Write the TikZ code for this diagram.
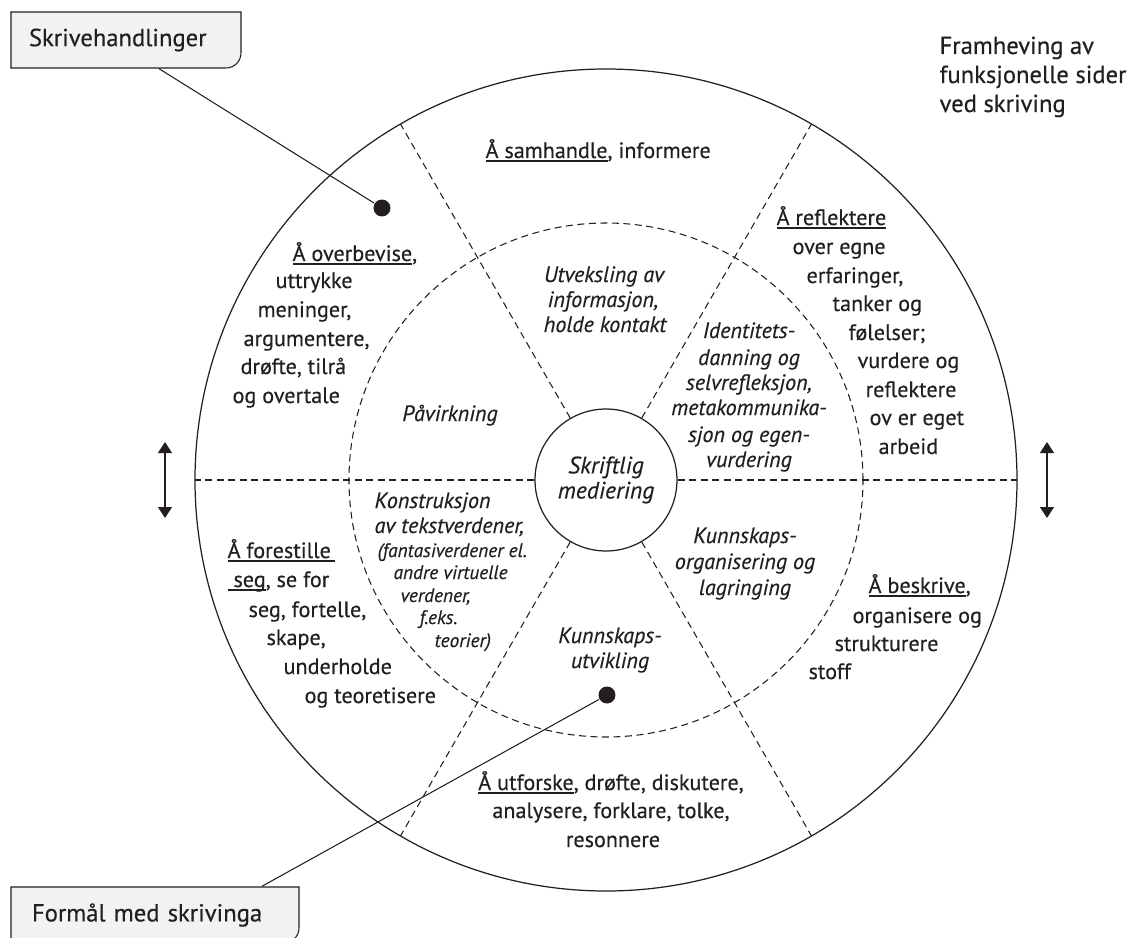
\documentclass[tikz,border=0pt]{standalone}
\usepackage{fontspec}
\setmainfont{PT Sans}[FakeBold=0.4]
\usetikzlibrary{arrows.meta}

\definecolor{ink}{HTML}{231F20}
\definecolor{boxgray}{HTML}{F1F2F2}
\newcommand{\ulbox}[1]{\setbox0=\hbox{#1}\rlap{\rule[-2pt]{\wd0}{0.6pt}}\box0}

\tikzset{
	txt/.style={inner sep=0, font=\fontsize{12.6}{15}\selectfont},
	itx/.style={inner sep=0, font=\fontsize{12.6}{15}\selectfont\itshape},
	small/.style={inner sep=0, font=\fontsize{11}{13}\selectfont\itshape},
	dashline/.style={line width=0.6pt, dash pattern=on 0.14cm off 0.09cm},
	lblbox/.style={fill=boxgray, line width=0.6pt},
	lbltxt/.style={inner ysep=0, align=left, minimum height=1.12cm, font=\fontsize{14}{16}\selectfont},
	dot/.style={circle, fill=ink, inner sep=0, minimum size=0.34cm}
}

\begin{document}
\begin{tikzpicture}[x=0.02cm, y=0.02cm, color=ink, line width=0.7pt, >={Triangle[length=0.22cm, width=0.28cm]}]
	\useasboundingbox (-606,-457) rectangle (523,480);

	\draw (0,0) circle [radius=411];
	\draw [dashline] (0,0) circle [radius=257];
	\node [draw, circle, minimum size=2.84cm, inner sep=0, align=center, font=\fontsize{13.5}{14.3}\selectfont\itshape] (mid) at (0,0) {Skriftlig\\mediering};
	\foreach \a in {0,60,...,300}
		\draw [dashline] (mid.\a) -- (\a:411);

	\draw [<->, line width=0.6pt] (-441,38) -- (-441,-38);
	\draw [<->, line width=0.6pt] (441,38) -- (441,-38);

	% labels with dots
	\filldraw [lblbox] (-595,468) -- (-365,468) -- (-365,427) arc [start angle=0, end angle=-90, radius=0.3cm] -- (-595,412) -- cycle;
	\node [lbltxt, text width=3.88cm, inner xsep=0.36cm] (skr) at (-480,440) {Skrivehandlinger};
	\filldraw [lblbox] (-595,-407) -- (-307,-407) -- (-307,-448) arc [start angle=0, end angle=-90, radius=0.3cm] -- (-595,-463) -- cycle;
	\node [lbltxt, text width=4.92cm, inner xsep=0.42cm] (frm) at (-451,-435) {Formål med skrivinga};
	\node [dot] (d1) at (-224,272) {};
	\node [dot] (d2) at (1,-215) {};
	\draw [line width=0.6pt] (d1) -- (skr.-41);
	\draw [line width=0.6pt] (d2) -- (frm.15);

	\foreach \y/\t [count=\i] in {426/Framheving av, 397/funksjonelle sider, 368/ved skriving}
		\node [txt, anchor=base west, font=\fontsize{14}{16}\selectfont] (fr\i) at (333,\y) {\t};

	% outer ring
	\node [txt, anchor=base west] (sam) at (-121,322) {\ulbox{Å samhandle}, informere};
	\foreach \x/\y/\t [count=\i] in {-314/219/{\ulbox{Å overbevise},}, -331/192/uttrykke, -349/163/{meninger,},
		-363/134/{argumentere,}, -366/106/{drøfte, tilrå}, -374/77/og overtale}
		\node [txt, anchor=base west] (ovb\i) at (\x,\y) {\t};
	\foreach \x/\y/\t [count=\i] in {170/255/{\ulbox{Å reflektere}}, 186/226/over egne, 200/197/{erfaringer,},
		226/169/tanker og, 242/140/følelser;, 251/112/vurdere og, 259/83/reflektere, 263/55/ov er eget, 272/26/arbeid}
		\node [txt, anchor=base west] (ref\i) at (\x,\y) {\t};
	\foreach \x/\y/\t [count=\i] in {262/-113/{\ulbox{Å beskrive},}, 246/-143/organisere og, 228/-171/strukturere, 202/-199/stoff}
		\node [txt, anchor=base west] (bes\i) at (\x,\y) {\t};
	\foreach \x/\y/\t [count=\i] in {-379/-78/{\ulbox{Å forestille\,}}, -379/-107/{\ulbox{\ seg}, se for}, -358/-137/{seg, fortelle,},
		-340/-165/{skape,}, -323/-194/underholde, -302/-223/og teoretisere}
		\node [txt, anchor=base west] (for\i) at (\x,\y) {\t};
	\foreach \x/\y/\t [count=\i] in {5/-310/{\ulbox{Å utforske}, drøfte, diskutere,}, 5/-338/{analysere, forklare, tolke,}, 7/-367/resonnere}
		\node [txt, anchor=base] (utf\i) at (\x,\y) {\t};

	% inner ring
	\foreach \x/\y/\t [count=\i] in {-2/198/Utveksling av, -3/173/{informasjon,}, -1/148/holde kontakt}
		\node [itx, anchor=base] (utv\i) at (\x,\y) {\t};
	\node [itx, anchor=base] (pav) at (-156,59) {Påvirkning};
	\foreach \y/\t [count=\i] in {142/Identitets-, 115/danning og, 90/{selvrefleksjon,}, 65/metakommunika-, 38/sjon og egen-, 13/vurdering}
		\node [itx, anchor=base] (idt\i) at (143,\y) {\t};
	\node [itx, anchor=base west] (kon1) at (-232,-28) {Konstruksjon};
	\node [itx, anchor=base west] (kon2) at (-232,-53) {av tekstverdener,};
	\foreach \x/\y/\t [count=\i] in {-229/-77/(fantasiverdener el., -213/-99/andre virtuelle, -206/-122/{verdener,}, -187/-144/f.eks., -172/-167/teorier)}
		\node [small, anchor=base west] (fan\i) at (\x,\y) {\t};
	\foreach \y/\t [count=\i] in {-163/Kunnskaps-, -188/utvikling}
		\node [itx, anchor=base] (kut\i) at (4,\y) {\t};
	\foreach \y/\t [count=\i] in {-63/Kunnskaps-, -89/organisering og, -115/lagringing}
		\node [itx, anchor=base] (kor\i) at (139,\y) {\t};
\end{tikzpicture}
\end{document}
